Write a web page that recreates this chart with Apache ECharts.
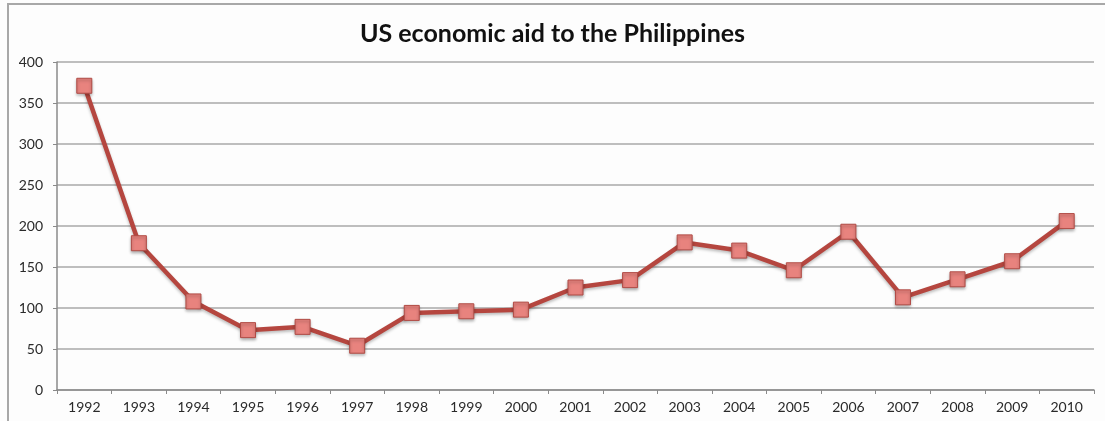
<!DOCTYPE html>
<html>
<head>
<meta charset="utf-8">
<script src="https://cdn.jsdelivr.net/npm/echarts@6/dist/echarts.min.js"></script>
<style>
  html, body { margin: 0; padding: 0; background: #ffffff; }
  #chart { width: 1105px; height: 421px; }
</style>
</head>
<body>
<div id="chart"></div>
<script>
// US economic aid to the Philippines, by year
const years = ['1992','1993','1994','1995','1996','1997','1998','1999','2000','2001',
               '2002','2003','2004','2005','2006','2007','2008','2009','2010'];
const aid = [371, 179, 108, 73, 77, 54, 94, 96, 98, 125,
             134, 180, 170, 146, 193, 113, 135, 157, 206];
const yTicks = [0, 50, 100, 150, 200, 250, 300, 350, 400];

const chart = echarts.init(document.getElementById('chart'), null, { renderer: 'canvas' });

chart.setOption({
  backgroundColor: '#fdfdfd',
  animation: false,
  title: {
    text: 'US economic aid to the Philippines',
    left: 'center',
    top: 16,
    textStyle: { fontFamily: 'Lato', fontWeight: 'bold', fontSize: 25, color: '#111' }
  },
  graphic: [{
    type: 'rect',
    shape: { x: 8, y: 4, width: 1120, height: 440 },
    style: { fill: 'none', stroke: '#a8a8a8', lineWidth: 2 },
    silent: true
  }],
  grid: { left: 57, right: 11, top: 62, bottom: 31 },
  xAxis: {
    type: 'category',
    data: years,
    boundaryGap: true,
    axisLine: { lineStyle: { color: '#8a8a8a', width: 1.5 } },
    axisTick: { show: true, alignWithLabel: false, length: 4, lineStyle: { color: '#8a8a8a' } },
    axisLabel: { fontFamily: 'Lato', fontSize: 14, color: '#2a2a2a', margin: 10 },
    splitLine: { show: false }
  },
  yAxis: {
    type: 'value',
    min: yTicks[0],
    max: yTicks[yTicks.length - 1],
    interval: yTicks[1] - yTicks[0],
    axisLine: { show: true, lineStyle: { color: '#8a8a8a', width: 1.5 } },
    axisTick: { show: true, length: 4, lineStyle: { color: '#8a8a8a' } },
    axisLabel: { fontFamily: 'Lato', fontSize: 14, color: '#2a2a2a', margin: 14 },
    splitLine: { lineStyle: { color: '#a8a8a8', width: 1.5 } }
  },
  series: [{
    type: 'line',
    data: aid,
    symbol: 'rect',
    symbolSize: 15,
    lineStyle: {
      color: '#b5463f',
      width: 4.5,
      shadowColor: 'rgba(0,0,0,0.25)',
      shadowBlur: 3,
      shadowOffsetY: 2
    },
    itemStyle: {
      color: '#e8837e',
      borderColor: '#b04b45',
      borderWidth: 1,
      shadowColor: 'rgba(0,0,0,0.3)',
      shadowBlur: 3,
      shadowOffsetY: 2
    },
    z: 3
  }]
});
</script>
</body>
</html>
